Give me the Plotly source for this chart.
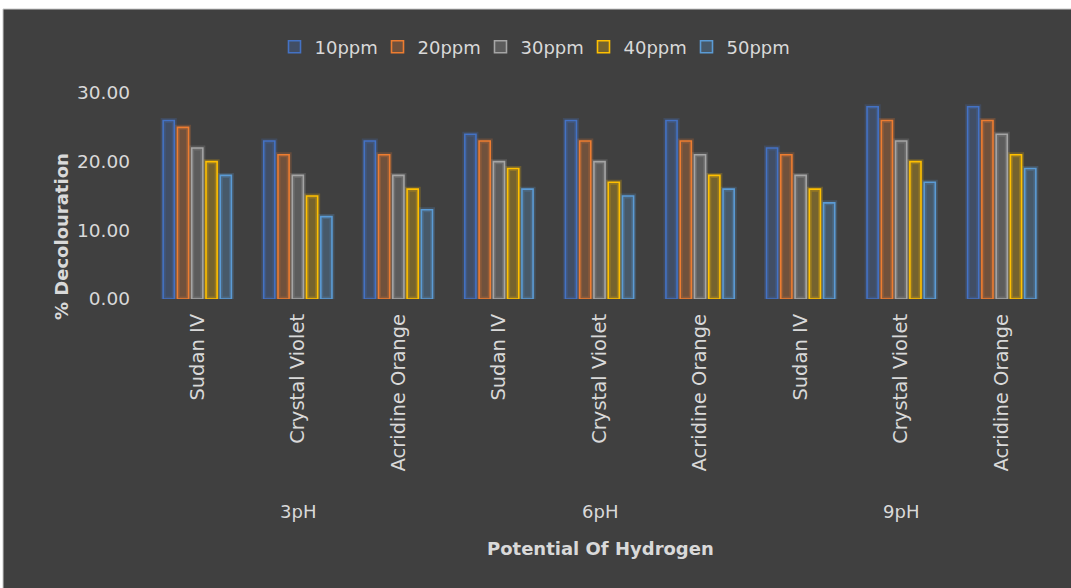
import plotly.graph_objects as go

# Data: % decolouration by pH group, dye and dye concentration
ph_groups = ["3pH", "6pH", "9pH"]
dyes = ["Sudan IV", "Crystal Violet", "Acridine Orange"]
series_names = ["10ppm", "20ppm", "30ppm", "40ppm", "50ppm"]

ppm10 = [26, 23, 23, 24, 26, 26, 22, 28, 28]
ppm20 = [25, 21, 21, 23, 23, 23, 21, 26, 26]
ppm30 = [22, 18, 18, 20, 20, 21, 18, 23, 24]
ppm40 = [20, 15, 16, 19, 17, 18, 16, 20, 21]
ppm50 = [18, 12, 13, 16, 15, 16, 14, 17, 19]

y_ticks = [0, 10, 20, 30]

series_values = [ppm10, ppm20, ppm30, ppm40, ppm50]
line_colors = ["#4472C4", "#ED7D31", "#A5A5A5", "#FFC000", "#5B9BD5"]
rgb = [(68, 114, 196), (237, 125, 49), (165, 165, 165), (255, 192, 0), (91, 155, 213)]

categories = [d for _ in ph_groups for d in dyes]
x_pos = list(range(len(categories)))

W, H = 1071, 588
ML, MR, MT, MB = 147, 19, 93, 289
PW, PH = W - ML - MR, H - MT - MB
FONT = "DejaVu Sans"
TXT = "#d9d9d9"


def px_x(px):
    return (px - ML) / PW


def px_y(py):
    return (H - MB - py) / PH


fig = go.Figure()

# soft glow behind each bar outline
for name, vals, (r, g, b) in zip(series_names, series_values, rgb):
    fig.add_trace(go.Bar(
        x=x_pos, y=vals, name=name, offsetgroup=name, showlegend=False,
        marker=dict(color="rgba(0,0,0,0)",
                    line=dict(color=f"rgba({r},{g},{b},0.22)", width=5)),
        hoverinfo="skip",
    ))

for i, (name, vals, col, (r, g, b)) in enumerate(
        zip(series_names, series_values, line_colors, rgb)):
    fig.add_trace(go.Bar(
        x=x_pos, y=vals, name=name, offsetgroup=name,
        marker=dict(color=f"rgba({r},{g},{b},0.28)",
                    line=dict(color=col, width=1.6)),
        # last legend entry gets room for its full label
        legendwidth=70 if i == len(series_names) - 1 else None,
    ))

annotations = []
for i, grp in enumerate(ph_groups):
    annotations.append(dict(
        x=i * len(dyes) + 1, xref="x", y=px_y(511), yref="paper",
        text=grp, showarrow=False, font=dict(family=FONT, size=18, color=TXT),
        xanchor="center", yanchor="middle",
    ))
annotations.append(dict(
    x=px_x(600), xref="paper", y=px_y(548), yref="paper",
    text="<b>Potential Of Hydrogen</b>", showarrow=False,
    font=dict(family=FONT, size=18, color=TXT), xanchor="center", yanchor="middle",
))
annotations.append(dict(
    x=px_x(61), xref="paper", y=px_y(237), yref="paper",
    text="<b>% Decolouration</b>", textangle=-90, showarrow=False,
    font=dict(family=FONT, size=18, color=TXT), xanchor="center", yanchor="middle",
))

fig.update_layout(
    width=W, height=H,
    margin=dict(l=ML, r=MR, t=MT, b=MB),
    paper_bgcolor="white",
    plot_bgcolor="rgba(0,0,0,0)",
    barmode="group", bargap=0.29, bargroupgap=0.22,
    font=dict(family=FONT, size=18, color=TXT),
    shapes=[dict(type="rect", xref="paper", yref="paper", layer="below",
                 x0=px_x(3), x1=px_x(W + 2), y0=px_y(H + 2), y1=px_y(9),
                 fillcolor="#404040", line=dict(color="#c8c8c8", width=1))],
    annotations=annotations,
    legend=dict(orientation="h", x=px_x(538), xanchor="center", y=px_y(47),
                yanchor="middle", bgcolor="rgba(0,0,0,0)",
                font=dict(family=FONT, size=18, color=TXT),
                itemwidth=30, tracegroupgap=0, entrywidth=58,
                entrywidthmode="pixels"),
    showlegend=True,
)
fig.update_xaxes(
    tickmode="array", tickvals=x_pos, ticktext=categories, tickangle=-90,
    range=[-0.5, len(categories) - 0.5], showgrid=False, zeroline=False,
    showline=False, ticks="", ticklabelstandoff=10,
    tickfont=dict(family=FONT, size=19.5, color=TXT),
)
fig.update_yaxes(
    range=[0, 30], tickvals=y_ticks, tickformat=".2f", showgrid=False,
    zeroline=False, showline=False, ticks="", ticklabelstandoff=16,
    tickfont=dict(family=FONT, size=18.5, color=TXT),
)

fig.write_html("out.html")
